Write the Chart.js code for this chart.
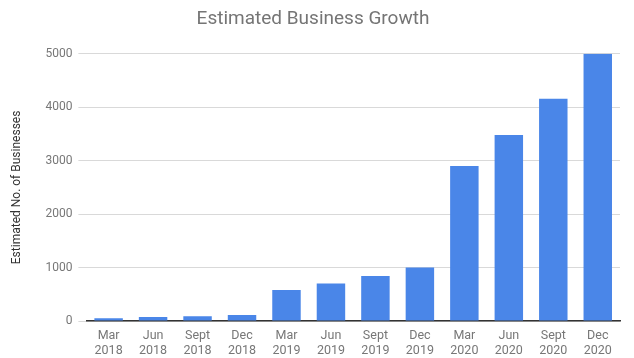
<!DOCTYPE html>
<html>
<head>
<meta charset="utf-8">
<script src="https://cdn.jsdelivr.net/npm/chart.js@4"></script>
<style>
  html, body { margin: 0; padding: 0; background: #fff; }
  #wrap { width: 634px; height: 358px; position: relative; }
</style>
</head>
<body>
<div id="wrap"><canvas id="chart"></canvas></div>
<script>
// Dados
const quarters = [
  ['Mar', '2018'], ['Jun', '2018'], ['Sept', '2018'], ['Dec', '2018'],
  ['Mar', '2019'], ['Jun', '2019'], ['Sept', '2019'], ['Dec', '2019'],
  ['Mar', '2020'], ['Jun', '2020'], ['Sept', '2020'], ['Dec', '2020']
];
const businesses = [50, 75, 90, 110, 580, 700, 840, 1000, 2900, 3480, 4160, 5000];
const yTicks = [0, 1000, 2000, 3000, 4000, 5000];

const font = 'Roboto';

new Chart(document.getElementById('chart'), {
  type: 'bar',
  data: {
    labels: quarters,
    datasets: [{
      label: 'Estimated No. of Businesses',
      data: businesses,
      backgroundColor: '#4a86e8',
      borderWidth: 0,
      categoryPercentage: 1,
      barPercentage: 0.64
    }]
  },
  options: {
    responsive: true,
    maintainAspectRatio: false,
    animation: false,
    layout: { padding: { top: 4, right: 14, bottom: -7, left: 6 } },
    plugins: {
      legend: { display: false },
      tooltip: { enabled: false },
      title: {
        display: true,
        text: 'Estimated Business Growth',
        color: '#757575',
        font: { family: font, size: 19, weight: 'normal' },
        padding: { top: 4, bottom: 23 }
      }
    },
    scales: {
      x: {
        grid: { display: false, drawTicks: false },
        border: { color: '#333', width: 1.5 },
        ticks: {
          color: '#777',
          font: { family: font, size: 12.5, lineHeight: 1.2 },
          padding: 7,
          maxRotation: 0,
          autoSkip: false
        }
      },
      y: {
        min: 0,
        max: 5000,
        afterBuildTicks: axis => { axis.ticks = yTicks.map(v => ({ value: v })); },
        grid: { color: '#d9d9d9', tickLength: 8, tickColor: '#d9d9d9' },
        border: { display: false },
        ticks: {
          color: '#777',
          font: { family: font, size: 12 },
          padding: 6,
          callback: v => String(v)
        },
        title: {
          display: true,
          text: 'Estimated No. of Businesses',
          color: '#333',
          font: { family: font, size: 12 },
          padding: { bottom: 15 }
        }
      }
    }
  }
});
</script>
</body>
</html>
